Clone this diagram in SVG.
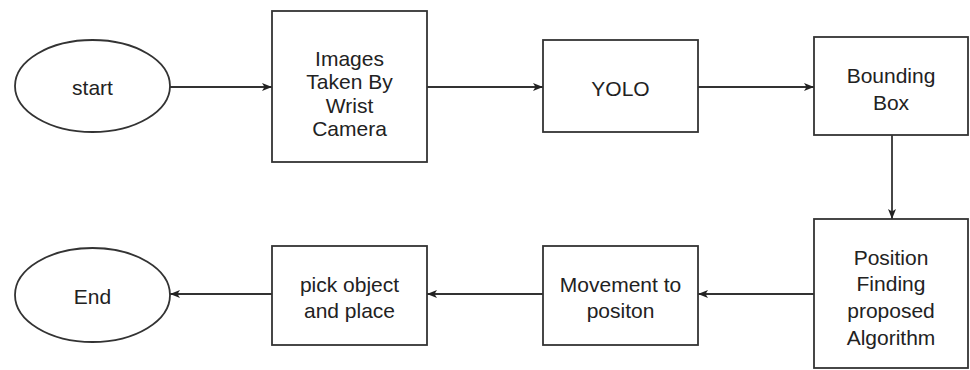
<svg xmlns="http://www.w3.org/2000/svg" width="970" height="370" viewBox="0 0 970 370">
<style>
.s{fill:#fff;stroke:#333;stroke-width:1.8}
.c{fill:none;stroke:#333;stroke-width:1.8}
text{font-family:"Liberation Sans",Arial,sans-serif;font-size:21px;fill:#222;text-anchor:middle;dominant-baseline:central}
</style>
<defs>
<marker id="a" markerWidth="10" markerHeight="8" refX="10" refY="4" orient="auto" markerUnits="userSpaceOnUse">
<path d="M0,0 L10,4 L0,8 L2.5,4 Z" fill="#222"/>
</marker>
</defs>
<rect width="970" height="370" fill="#fff"/>
<g id="connectors">
<line class="c" x1="170" y1="87" x2="272" y2="87" marker-end="url(#a)"/>
<line class="c" x1="427" y1="87" x2="543" y2="87" marker-end="url(#a)"/>
<line class="c" x1="698" y1="87" x2="814" y2="87" marker-end="url(#a)"/>
<line class="c" x1="892" y1="135" x2="892" y2="219" marker-end="url(#a)"/>
<line class="c" x1="814" y1="294" x2="698" y2="294" marker-end="url(#a)"/>
<line class="c" x1="543" y1="294" x2="427" y2="294" marker-end="url(#a)"/>
<line class="c" x1="272" y1="294" x2="170" y2="294" marker-end="url(#a)"/>
</g>
<g id="start">
<ellipse class="s" cx="92.5" cy="86" rx="77.5" ry="46"/>
<text x="92.5" y="87">start</text>
</g>
<g id="images">
<rect class="s" x="272" y="11" width="155" height="151"/>
<text x="349.5" y="58">Images</text>
<text x="349.5" y="81.5">Taken By</text>
<text x="349.5" y="105">Wrist</text>
<text x="349.5" y="128">Camera</text>
</g>
<g id="yolo">
<rect class="s" x="543" y="40" width="155" height="92"/>
<text x="620.5" y="88">YOLO</text>
</g>
<g id="bounding">
<rect class="s" x="814" y="37" width="154" height="98"/>
<text x="891" y="75">Bounding</text>
<text x="891" y="102">Box</text>
</g>
<g id="position">
<rect class="s" x="814" y="219" width="154" height="149"/>
<text x="891" y="257">Position</text>
<text x="891" y="283.5">Finding</text>
<text x="891" y="310">proposed</text>
<text x="891" y="337">Algorithm</text>
</g>
<g id="movement">
<rect class="s" x="543" y="246" width="155" height="99"/>
<text x="620.5" y="284">Movement to</text>
<text x="620.5" y="310">positon</text>
</g>
<g id="pick">
<rect class="s" x="272" y="246" width="155" height="99"/>
<text x="349.5" y="284">pick object</text>
<text x="349.5" y="310">and place</text>
</g>
<g id="end">
<ellipse class="s" cx="92.5" cy="295" rx="77.5" ry="47"/>
<text x="92.5" y="296">End</text>
</g>
</svg>
